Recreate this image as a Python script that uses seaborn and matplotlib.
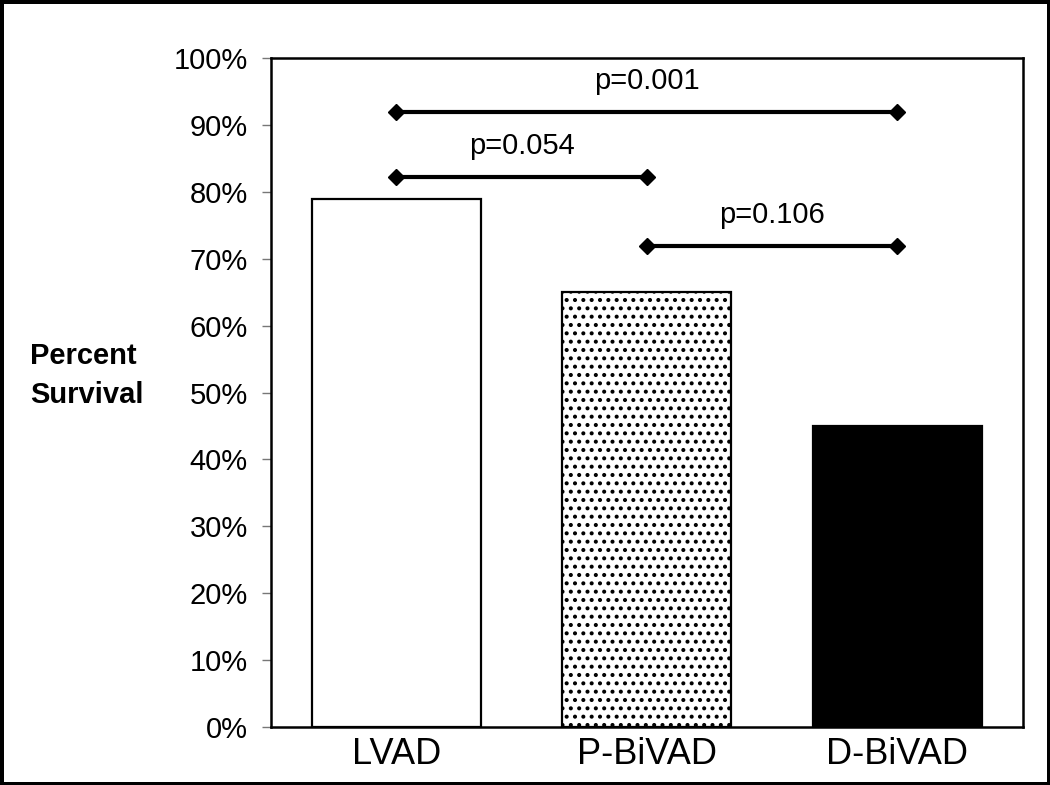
import pandas as pd
import seaborn as sns
from matplotlib import pyplot as plt

groups = ["LVAD", "P-BiVAD", "D-BiVAD"]
survival = [0.79, 0.65, 0.45]
bar_colors = ["white", "white", "black"]
bar_hatches = [None, "..", None]

# significance brackets: (from group, to group, height, label)
bracket_from = [0, 0, 1]
bracket_to = [2, 1, 2]
bracket_y = [0.92, 0.822, 0.719]
bracket_labels = ["p=0.001", "p=0.054", "p=0.106"]

y_ticks = [i / 10 for i in range(11)]
y_ticklabels = [f"{int(t * 100)}%" for t in y_ticks]

sns.set_style("white")
plt.rcParams["font.family"] = ["Liberation Sans", "DejaVu Sans"]
plt.rcParams["text.color"] = "black"
plt.rcParams["xtick.color"] = "black"
plt.rcParams["ytick.color"] = "black"
plt.rcParams["axes.labelcolor"] = "black"
plt.rcParams["hatch.linewidth"] = 1.7

df = pd.DataFrame({"group": groups, "survival": survival})

fig = plt.figure(figsize=(10.5, 7.85), dpi=100)
fig.patch.set_edgecolor("black")
fig.patch.set_linewidth(5)
ax = fig.add_axes([0.258, 0.074, 0.716, 0.852])

sns.barplot(data=df, x="group", y="survival", hue="group",
            palette=dict(zip(groups, bar_colors)), order=groups, hue_order=groups,
            edgecolor="black", linewidth=1.6, width=0.675, legend=False, ax=ax)
for bar, h in zip(ax.patches, bar_hatches):
    if h:
        bar.set_hatch(h)

for a, b, y, lab in zip(bracket_from, bracket_to, bracket_y, bracket_labels):
    ax.plot([a, b], [y, y], color="black", lw=3, marker="D", markersize=8.5)
    ax.text((a + b) / 2, y + 0.025, lab, ha="center", va="bottom", fontsize=21)

ax.set_xlim(-0.5, 2.5)
ax.set_ylim(0, 1)
ax.set_yticks(y_ticks)
ax.set_yticklabels(y_ticklabels, fontsize=21)
ax.tick_params(axis="y", left=True, length=6.5, width=1.0, pad=10, color="#777777")
ax.tick_params(axis="x", bottom=False, labelsize=26, pad=4)
ax.set_xlabel("")
ax.set_ylabel("Percent\nSurvival", rotation=0, fontsize=21, fontweight="bold",
              ha="left", va="center", linespacing=1.5)
ax.yaxis.set_label_coords(-0.32, 0.526)
for sp in ax.spines.values():
    sp.set_visible(True)
    sp.set_color("black")
    sp.set_linewidth(1.8)

plt.savefig("out.png", dpi=100, edgecolor=fig.get_edgecolor())
